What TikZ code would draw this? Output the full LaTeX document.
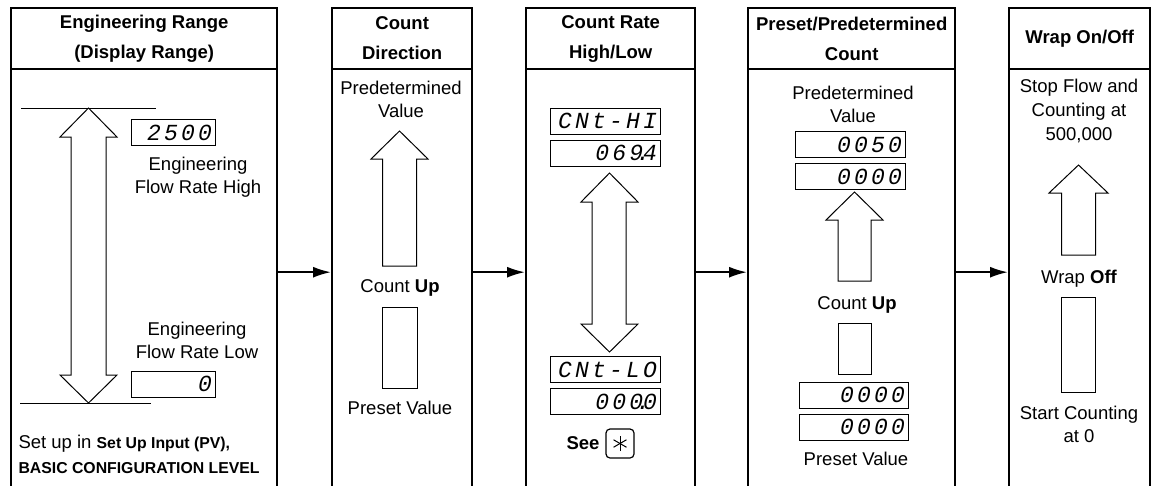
\documentclass[tikz,border=0pt]{standalone}
\usepackage{fontspec}
\setmainfont{Liberation Sans}
\newfontfamily\segfont[LetterSpace=14]{Liberation Mono}
\newcommand\dpt{\makebox[0pt]{.}}
\usetikzlibrary{arrows.meta,positioning}

\begin{document}
\begin{tikzpicture}[x=1pt,y=-1pt,>={Latex[length=18pt,width=11pt]},
  font=\fontsize{18.5}{23}\selectfont,
  panel/.style={draw,line width=2.4pt,anchor=north west,minimum height=528pt,inner sep=0pt},
  head/.style={draw,line width=2pt,anchor=north,minimum height=61pt,align=center,
    font=\fontsize{18.5}{30}\selectfont\bfseries},
  display/.style={draw,line width=1pt,minimum height=26pt,text width=#1,align=right,
    inner xsep=3pt,inner ysep=0pt,font=\fontsize{23}{23}\selectfont\segfont\itshape},
  hollow/.style={draw,line width=1pt},
  txt/.style={align=center},
  flow/.style={->,line width=2pt}]
  \useasboundingbox (0,0) rectangle (1151,485);

  \node[panel,minimum width=266pt] (p1) at (10,7) {};
  \node[panel,minimum width=140pt] (p2) at (331,7) {};
  \node[panel,minimum width=169pt] (p3) at (525,7) {};
  \node[panel,minimum width=207pt] (p4) at (747,7) {};
  \node[panel,minimum width=141pt] (p5) at (1008,7) {};

  \node[head,minimum width=266pt] (h1) at (p1.north) {Engineering Range\\(Display Range)};
  \node[head,minimum width=140pt] (h2) at (p2.north) {Count\\Direction};
  \node[head,minimum width=169pt] (h3) at (p3.north) {Count Rate\\High/Low};
  \node[head,minimum width=207pt] (h4) at (p4.north) {Preset/Predetermined\\Count};
  \node[head,minimum width=141pt] (h5) at (p5.north) {Wrap On/Off};

  \draw[flow] (p1) -- (p2);
  \draw[flow] (p2) -- (p3);
  \draw[flow] (p3) -- (p4);
  \draw[flow] (p4) -- (p5);

  % engineering range
  \draw[hollow] (21,108) -- (156,108) (20,403) -- (151,403);
  \draw[hollow] (88.5,108) -- (117,137) -- (106,137) -- (106,375) -- (117,375) -- (88.5,403)
    -- (60,375) -- (71,375) -- (71,137) -- (60,137) -- cycle;
  \node[display=78pt] (rhi) at (173,132.5) {2500\hspace{6pt}};
  \node[txt] (ehi) at (198,177.5) {Engineering\\Flow Rate High};
  \node[txt] (elo) at (197,340.5) {Engineering\\Flow Rate Low};
  \node[display=78pt] (rlo) at (173,384) {0\hspace{2pt}};
  \node[anchor=west,align=left,font=\fontsize{18.5}{25}\selectfont] (setup) at (15,454.5)
    {Set up in {\bfseries\fontsize{15.8}{25}\selectfont Set Up Input (PV),}\\
     {\bfseries\fontsize{15.8}{25}\selectfont BASIC CONFIGURATION LEVEL}};

  % count direction
  \node[txt] (pv2) at (401,99) {Predetermined\\Value};
  \draw[hollow] (399.5,131) -- ++(28.5,28) -- ++(-11.5,0) -- ++(0,107) -- ++(-34,0)
    -- ++(0,-107) -- ++(-11.5,0) -- cycle;
  \node (up2) at (400,288) {Count \textbf{Up}};
  \draw[hollow] (382,307) rectangle (417,388);
  \node (ps2) at (400,408) {Preset Value};

  % count rate
  \node[display=104pt] (chi) at (605,121) {CNt-HI};
  \node[display=104pt,below=5pt of chi] (vhi) {069\dpt4};
  \draw[hollow] (609.5,173) -- (638,202) -- (626,202) -- (626,324) -- (638,324) -- (609.5,352)
    -- (581,324) -- (592,324) -- (592,202) -- (581,202) -- cycle;
  \node[display=104pt] (clo) at (605,369.5) {CNt-LO};
  \node[display=104pt,below=5pt of clo] (vlo) {000\dpt0};
  \node[font=\fontsize{18.5}{23}\selectfont\bfseries] (see) at (583,443) {See};
  \node[draw,line width=1.2pt,rounded corners=4pt,minimum width=28pt,minimum height=29pt]
    (star) at (620,443.5) {};
  \foreach \a in {90,30,-30}
    \draw[line width=1pt] ([shift={(\a:7.5)}]star.center) -- ([shift={(\a+180:7.5)}]star.center);

  % preset / predetermined
  \node[txt] (pv4) at (853,104.5) {Predetermined\\Value};
  \node[display=104pt] (pdh) at (850,144.5) {0050};
  \node[display=104pt,below=5pt of pdh] (pdl) {0000};
  \draw[hollow] (854.5,192) -- ++(28.5,28) -- ++(-12,0) -- ++(0,61) -- ++(-33,0)
    -- ++(0,-61) -- ++(-12,0) -- cycle;
  \node (up4) at (857,305) {Count \textbf{Up}};
  \draw[hollow] (838,323) rectangle (871,374);
  \node[display=103pt] (psh) at (853.5,395) {0000};
  \node[display=103pt,below=5pt of psh] (psl) {0000};
  \node (ps4) at (856,459) {Preset Value};

  % wrap
  \node[txt,font=\fontsize{18.5}{24}\selectfont] (stop) at (1079,111) {Stop Flow and\\Counting at\\500,000};
  \draw[hollow] (1078.5,165) -- ++(29.5,28) -- ++(-12.5,0) -- ++(0,62) -- ++(-34,0)
    -- ++(0,-62) -- ++(-12.5,0) -- cycle;
  \node (off) at (1079,279) {Wrap \textbf{Off}};
  \draw[hollow] (1061,297) rectangle (1095,392);
  \node[txt] (start) at (1079,424.5) {Start Counting\\at 0};
\end{tikzpicture}
\end{document}
